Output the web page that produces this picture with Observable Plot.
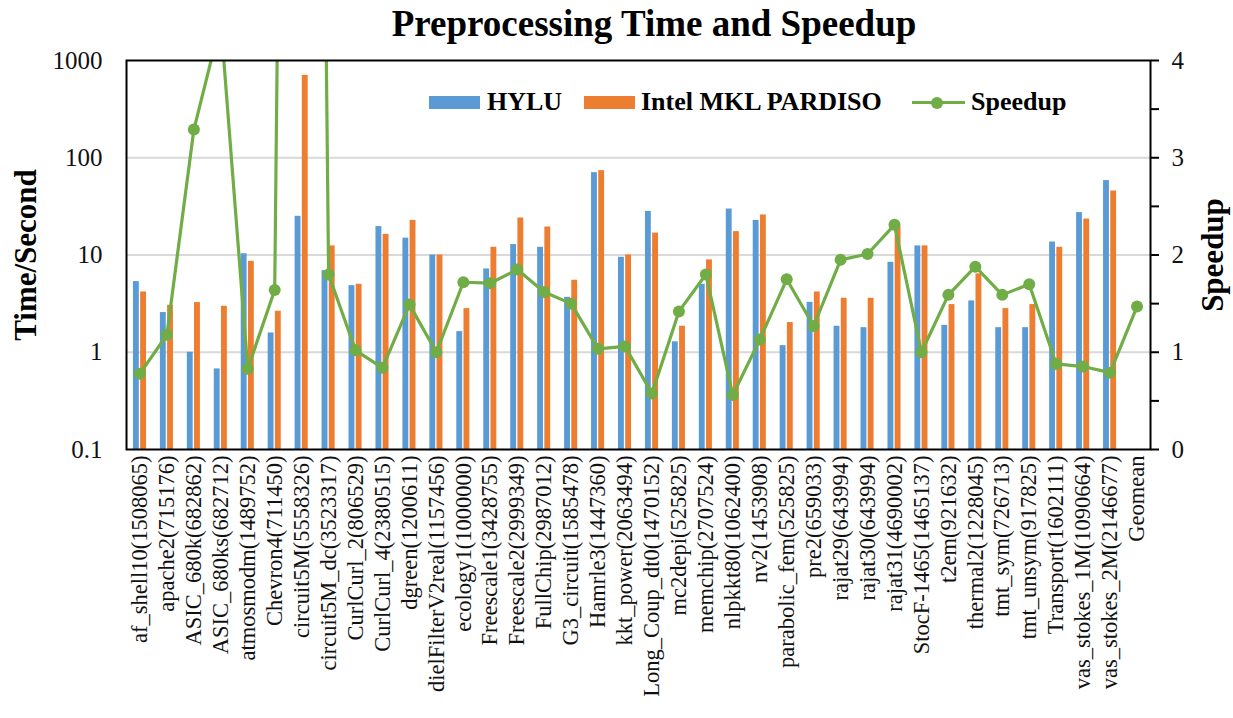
<!DOCTYPE html>
<html>
<head>
<meta charset="utf-8">
<script src="https://cdn.jsdelivr.net/npm/d3@7"></script>
<script src="https://cdn.jsdelivr.net/npm/@observablehq/plot@0.6"></script>
<style>
  body { margin: 0; background: #fff; font-family: "Liberation Serif", "Times New Roman", serif; }
  #wrap { position: relative; width: 1233px; height: 718px; overflow: hidden; }
  #title { height: 45px; line-height: 48px; text-align: center; padding-left: 75px; font-weight: bold; font-size: 37px; color: #000; }
  .lg { position: absolute; font-weight: bold; font-size: 26px; color: #000; line-height: 26px; }
  .sw { position: absolute; height: 13px; }
</style>
</head>
<body>
<div id="wrap">
  <div id="title">Preprocessing Time and Speedup</div>
  <div id="chart"></div>
  <div class="sw" style="left:429px; top:96px; width:51px; background:#5B9BD5"></div>
  <div class="lg" style="left:487px; top:89px">HYLU</div>
  <div class="sw" style="left:584px; top:96px; width:51px; background:#ED7D31"></div>
  <div class="lg" style="left:641px; top:89px">Intel MKL PARDISO</div>
  <div class="sw" style="left:912px; top:101px; width:53px; height:3px; background:#70AD47"></div>
  <div class="sw" style="left:931px; top:97px; width:12px; height:12px; border-radius:50%; background:#70AD47"></div>
  <div class="lg" style="left:971px; top:89px">Speedup</div>
</div>
<script>
const names = ["af_shell10(1508065)","apache2(715176)","ASIC_680k(682862)","ASIC_680ks(682712)","atmosmodm(1489752)","Chevron4(711450)","circuit5M(5558326)","circuit5M_dc(3523317)","CurlCurl_2(806529)","CurlCurl_4(2380515)","dgreen(1200611)","dielFilterV2real(1157456)","ecology1(1000000)","Freescale1(3428755)","Freescale2(2999349)","FullChip(2987012)","G3_circuit(1585478)","Hamrle3(1447360)","kkt_power(2063494)","Long_Coup_dt0(1470152)","mc2depi(525825)","memchip(2707524)","nlpkkt80(1062400)","nv2(1453908)","parabolic_fem(525825)","pre2(659033)","rajat29(643994)","rajat30(643994)","rajat31(4690002)","StocF-1465(1465137)","t2em(921632)","thermal2(1228045)","tmt_sym(726713)","tmt_unsym(917825)","Transport(1602111)","vas_stokes_1M(1090664)","vas_stokes_2M(2146677)","Geomean"];
const hylu = [5.33,2.56,1.0,0.674,10.3,1.58,25,6.9,4.84,19.6,14.9,10.0,1.63,7.19,12.8,12.0,3.67,70.3,9.47,28.1,1.28,5.0,29.7,22.7,1.17,3.26,1.85,1.79,8.41,12.4,1.89,3.37,1.79,1.79,13.6,27.3,58.2,null];
const pardiso = [4.17,3.04,3.24,2.97,8.6,2.64,703,12.4,5.0,16.3,22.7,10.0,2.81,12.0,24,19.4,5.5,73.7,10.0,16.8,1.85,8.9,17.4,25.8,2.02,4.17,3.59,3.59,19.4,12.4,3.09,6.4,2.81,3.09,12.0,23.4,45.5,null];
const speedup = [0.78,1.18,3.29,4.4,0.83,1.64,28,1.80,1.02,0.84,1.49,1.0,1.72,1.71,1.85,1.62,1.50,1.035,1.06,0.575,1.42,1.80,0.56,1.13,1.75,1.27,1.95,2.01,2.31,1.0,1.59,1.88,1.59,1.70,0.88,0.853,0.79,1.47];
const timeTicks = [0.1,1,10,100,1000];
const speedTicks = [0,0.5,1,1.5,2,2.5,3,3.5,4];

// speedup axis (0..4, linear) shares the log time axis (0.1..1000): s -> 10^(s-1)
const toTime = s => Math.pow(10, s - 1);
const rows = names.map((n, i) => ({name: n, hylu: hylu[i], pardiso: pardiso[i], sp: toTime(speedup[i])}));
const barRows = rows.filter(d => d.hylu != null);

const font = "Liberation Serif";
const chart = Plot.plot({
  width: 1233,
  height: 673,
  marginTop: 15,
  marginLeft: 126,
  marginRight: 83,
  marginBottom: 269,
  style: {fontFamily: font, color: "#111", background: "#fff"},
  x: {type: "band", domain: names, paddingInner: 0.5, paddingOuter: 0.25, label: null},
  y: {type: "log", domain: [0.1, 1000], label: null},
  marks: [
    Plot.ruleY([1, 10, 100], {stroke: "#d9d9d9", strokeWidth: 2}),
    Plot.barY(barRows, {x: "name", y1: 0.1, y2: "hylu", fill: "#5B9BD5", insetLeft: 0.2, insetRight: 7.4}),
    Plot.barY(barRows, {x: "name", y1: 0.1, y2: "pardiso", fill: "#ED7D31", insetLeft: 7.4, insetRight: 0.2}),
    Plot.line(rows, {x: "name", y: "sp", stroke: "#70AD47", strokeWidth: 3.2, clip: true}),
    Plot.dot(rows, {x: "name", y: "sp", fill: "#70AD47", r: 6, clip: true}),
    Plot.axisY({ticks: timeTicks, tickFormat: d => String(d), tickSize: 0, tickPadding: 24, fontSize: 25, label: null}),
    Plot.axisY({anchor: "right", ticks: speedTicks.map(toTime), tickSize: 8, tickPadding: 13, fontSize: 25, label: null,
      tickFormat: d => { const s = Math.round((Math.log10(d) + 1) * 2) / 2; return Number.isInteger(s) ? String(s) : ""; },
      stroke: "#000", strokeWidth: 2}),
    Plot.axisX({tickRotate: -90, tickSize: 0, tickPadding: 6, fontSize: 22.5, label: null}),
    Plot.frame({stroke: "#000", strokeWidth: 2})
  ]
});
document.getElementById("chart").appendChild(chart);

// axis titles (outside the plotting frame)
const wrap = document.getElementById("wrap");
function vlabel(text, cx, cy) {
  const d = document.createElement("div");
  d.textContent = text;
  d.style.cssText = `position:absolute; left:${cx}px; top:${cy}px; transform:translate(-50%,-50%) rotate(-90deg); font-weight:bold; font-size:31px; white-space:nowrap; color:#000;`;
  wrap.appendChild(d);
}
vlabel("Time/Second", 26, 255);
vlabel("Speedup", 1213, 255);
</script>
</body>
</html>
